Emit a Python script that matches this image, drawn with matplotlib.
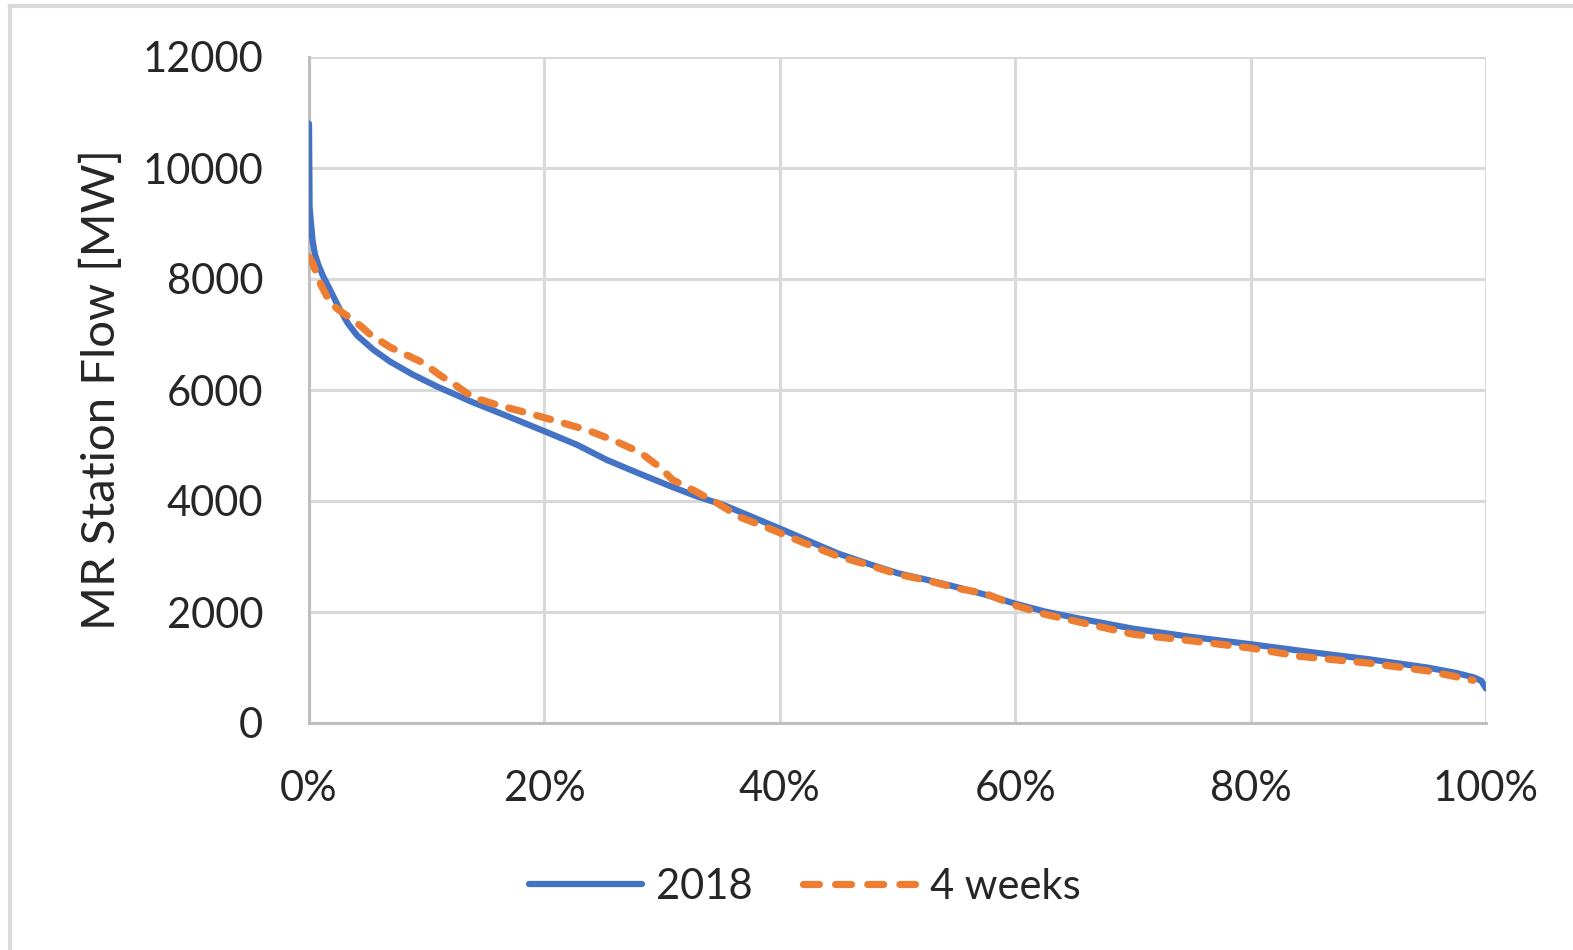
import matplotlib
matplotlib.use('Agg')
import matplotlib.pyplot as plt
from matplotlib.lines import Line2D
from matplotlib.ticker import FuncFormatter

# duration curve, share of hours (%) vs MR station flow (MW)
x_2018 = [0, 0.05, 0.15, 0.3, 0.5, 0.8, 1.2, 1.8, 2.6, 3.3, 4.1, 5.5, 6.9, 8.8, 10.9, 13.9,
          16.5, 20.2, 22.8, 25.3, 28.0, 30.9, 33.0, 35.2, 37.8, 40.6, 43.0, 45.0, 47.5,
          50.0, 52.5, 55.0, 57.5, 60.0, 62.5, 65.0, 67.5, 70.0, 75.0, 80.0, 85.0, 90.0,
          95.0, 97.5, 99.0, 99.6, 100.0]
y_2018 = [10800, 9300, 9050, 8700, 8450, 8250, 8050, 7800, 7460, 7200, 6980, 6720, 6510, 6280,
          6060, 5780, 5560, 5240, 5010, 4740, 4500, 4250, 4080, 3930, 3700, 3450, 3230,
          3050, 2870, 2700, 2580, 2450, 2310, 2150, 2010, 1900, 1800, 1700, 1550, 1420,
          1280, 1150, 1000, 900, 820, 760, 620]

x_4weeks = [0, 0.3, 1.0, 1.8, 2.6, 3.5, 4.4, 5.2, 6.9, 8.3, 9.7, 11.1, 12.5, 13.9, 16.0,
            18.5, 20.7, 23.6, 25.8, 28.1, 29.8, 30.9, 32.6, 34.7, 36.6, 39.4, 42.0, 45.0,
            47.5, 50.0, 52.5, 55.0, 57.5, 60.0, 62.5, 65.0, 67.5, 70.0, 75.0, 80.0, 84.2,
            90.0, 95.0, 98.9]
y_4weeks = [8400, 8290, 7900, 7570, 7430, 7300, 7150, 7000, 6770, 6630, 6490, 6270, 6080,
            5870, 5730, 5590, 5460, 5280, 5100, 4880, 4610, 4380, 4200, 3960, 3710, 3480,
            3250, 3000, 2850, 2680, 2570, 2430, 2330, 2120, 1960, 1840, 1720, 1600, 1480,
            1350, 1200, 1080, 940, 770]

label_2018 = '2018'
label_4weeks = '4 weeks'
yticks = [0, 2000, 4000, 6000, 8000, 10000, 12000]
xticks = [0, 20, 40, 60, 80, 100]

plt.rcParams['font.family'] = ['Lato', 'DejaVu Sans']
fig = plt.figure(figsize=(15.73, 9.5), dpi=100)
ax = fig.add_axes([309 / 1573, 1 - 723 / 950, (1486 - 309) / 1573, (723 - 57) / 950])

blue = '#4472c4'
orange = '#ed7d31'
dash = (0, (2.0, 2.0))
ax.plot(x_2018, y_2018, color=blue, lw=4.5, solid_capstyle='round', solid_joinstyle='round', zorder=3)
ax.plot(x_4weeks, y_4weeks, color=orange, lw=5.2, linestyle=dash,
        dash_capstyle='round', zorder=4)

ax.set_xlim(0, 100)
ax.set_ylim(0, 12000)
ax.set_xticks(xticks)
ax.set_yticks(yticks)
ax.xaxis.set_major_formatter(FuncFormatter(lambda v, p: f'{v:.0f}%'))
ax.tick_params(length=0, labelsize=30, colors='#262626')
ax.tick_params(axis='y', pad=33)
ax.tick_params(axis='x', pad=34)
ax.grid(True, color='#d9d9d9', lw=2.2)
ax.set_axisbelow(True)
for s in ['top', 'right']:
    ax.spines[s].set_visible(False)
for s in ['left', 'bottom']:
    ax.spines[s].set_color('#bfbfbf')
    ax.spines[s].set_linewidth(2.2)

ax.set_ylabel('MR Station Flow [MW]', fontsize=34, color='#262626', labelpad=14)

# legend handle dashes sized so the last dash ends at the text
handles = [Line2D([], [], color=blue, lw=4.5, solid_capstyle='round'),
           Line2D([], [], color=orange, lw=5.2, linestyle=(0, (2.2, 2.25)), dash_capstyle='round')]
fig.legend(handles, [label_2018, label_4weeks], loc='center', bbox_to_anchor=(805 / 1573, 1 - 887 / 950),
           ncol=2, frameon=False, fontsize=30, handlelength=2.7, handletextpad=0.35, columnspacing=1.2,
           labelcolor='#262626')

# light frame around the chart area (top and left edges visible)
fig.add_artist(Line2D([10 / 1573, 1], [1 - 6 / 950, 1 - 6 / 950], transform=fig.transFigure,
                      color='#d9d9d9', lw=3))
fig.add_artist(Line2D([10 / 1573, 10 / 1573], [0, 1 - 6 / 950], transform=fig.transFigure,
                      color='#d9d9d9', lw=3))

fig.savefig('out.png', dpi=100)
